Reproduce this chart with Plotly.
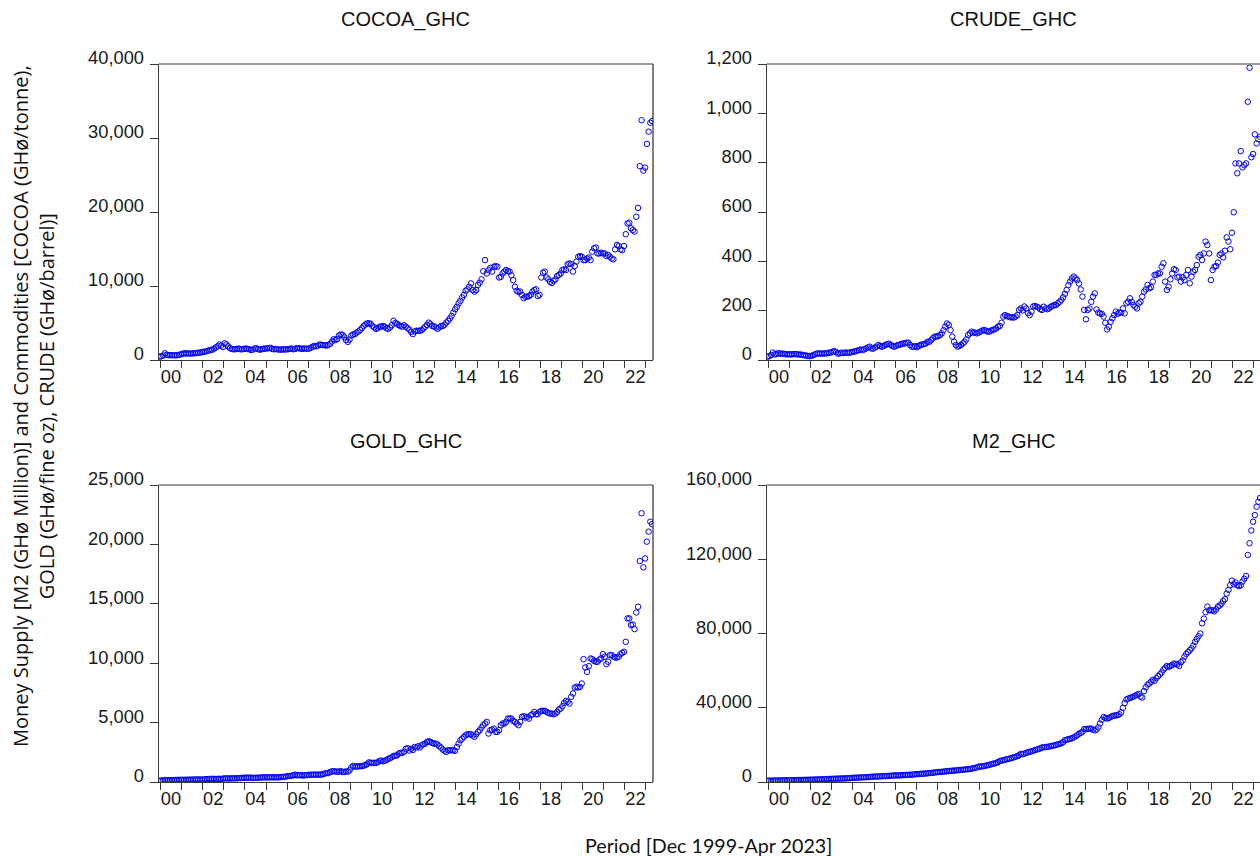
import plotly.graph_objects as go
import numpy as np
import pandas as pd

# ---------------- data (monthly, Dec 1999 - Apr 2023) ----------------
months = pd.period_range("1999-12", "2023-04", freq="M")
year_labels = ["00", "02", "04", "06", "08", "10", "12", "14", "16", "18", "20", "22"]

COCOA = [
    450,
    500, 600, 900, 700, 650, 650, 650, 650, 620, 650, 700, 750,
    850, 900, 900, 880, 870, 880, 900, 920, 950, 980, 1000, 1050,
    1100, 1150, 1200, 1300, 1350, 1400, 1550, 1700, 1850, 2100, 1950, 1750,
    2250, 2100, 1850, 1600, 1500, 1450, 1450, 1500, 1550, 1450, 1450, 1500,
    1550, 1500, 1450, 1350, 1400, 1550, 1600, 1450, 1400, 1450, 1500, 1550,
    1550, 1600, 1650, 1500, 1450, 1500, 1450, 1400, 1400, 1450, 1400, 1450,
    1450, 1500, 1550, 1450, 1500, 1600, 1600, 1550, 1500, 1550, 1550, 1500,
    1550, 1650, 1800, 1900, 1850, 1950, 2100, 2050, 2000, 2000, 1950, 2050,
    2200, 2500, 2800, 2700, 2850, 3300, 3450, 3400, 3100, 2700, 2450, 2750,
    3300, 3450, 3500, 3700, 3850, 4050, 4300, 4600, 4800, 4950, 4950, 4900,
    4600, 4400, 4200, 4300, 4500, 4500, 4600, 4500, 4300, 4200, 4400, 4700,
    5300, 5000, 4900, 4700, 4600, 4500, 4700, 4500, 4300, 4100, 3800, 3500,
    3850, 3950, 3950, 3950, 4050, 4250, 4500, 4750, 5050, 4850, 4600, 4550,
    4400, 4200, 4400, 4600, 4600, 4750, 5050, 5300, 5600, 5950, 6400, 6850,
    7200, 7650, 8000, 8450, 8800, 9350, 9550, 9900, 10350, 9450, 9250, 9450,
    10150, 10450, 10900, 12000, 13500, 11700, 12150, 12450, 11950, 12600, 12700, 12600,
    11150, 11250, 11700, 11950, 12150, 12000, 11950, 11450, 10800, 9900, 9350, 9200,
    9250, 8800, 8350, 8550, 8550, 8650, 8800, 9250, 9450, 9550, 8650, 8800,
    11150, 11800, 11950, 11150, 10900, 10550, 10400, 10700, 10900, 11350, 11500, 11700,
    12150, 12250, 12150, 12950, 13050, 12950, 11950, 12700, 13300, 13950, 14050, 13950,
    13500, 13500, 13700, 13850, 13500, 14650, 15100, 15200, 14400, 14400, 14500, 14400,
    14400, 14050, 14200, 13950, 13700, 13600, 14950, 15550, 15400, 14950, 14850, 15400,
    17000, 18450, 18550, 17800, 17550, 17350, 19350, 20550, 26200, 32400, 25600, 26000,
    29200, 30850, 32050, 32300,
]

CRUDE = [
    13,
    16, 20, 30, 23, 24, 27, 27, 24, 26, 24, 23, 23,
    23, 23, 24, 24, 23, 22, 22, 20, 19, 18, 16, 16,
    17, 20, 23, 26, 27, 26, 26, 26, 27, 27, 30, 30,
    34, 36, 32, 26, 27, 30, 28, 30, 30, 28, 31, 32,
    34, 35, 38, 40, 43, 40, 43, 47, 51, 54, 47, 46,
    51, 54, 61, 57, 54, 57, 61, 64, 66, 61, 57, 54,
    57, 61, 61, 65, 67, 67, 70, 70, 61, 54, 54, 57,
    52, 57, 61, 63, 65, 67, 74, 74, 81, 88, 95, 95,
    97, 101, 108, 121, 135, 148, 142, 121, 95, 74, 61, 54,
    57, 61, 67, 74, 84, 101, 108, 115, 111, 111, 108, 111,
    115, 119, 122, 119, 115, 115, 119, 122, 124, 128, 135, 138,
    151, 176, 182, 178, 176, 173, 173, 172, 176, 182, 203, 209,
    201, 217, 209, 190, 182, 196, 217, 219, 216, 213, 206, 203,
    216, 209, 206, 209, 216, 219, 223, 223, 230, 236, 243, 254,
    268, 284, 304, 318, 330, 338, 331, 324, 310, 286, 257, 203,
    165, 203, 209, 236, 257, 270, 205, 192, 189, 187, 176, 151,
    124, 135, 155, 169, 182, 196, 187, 192, 192, 209, 189, 230,
    236, 250, 236, 223, 216, 209, 230, 236, 257, 277, 286, 304,
    291, 295, 318, 345, 345, 351, 351, 378, 392, 318, 284, 297,
    327, 351, 368, 365, 335, 338, 318, 335, 324, 345, 365, 311,
    338, 358, 365, 385, 419, 426, 405, 432, 480, 466, 432, 324,
    365, 378, 381, 395, 426, 432, 416, 443, 497, 480, 449, 516,
    599, 797, 757, 797, 847, 781, 790, 797, 1047, 1185, 822, 835,
    915, 878, 895, 905,
]

GOLD = [
    100,
    120, 140, 170, 150, 150, 155, 160, 165, 170, 175, 180, 185,
    185, 185, 185, 190, 195, 200, 200, 205, 220, 210, 210, 205,
    215, 235, 245, 250, 260, 265, 260, 255, 265, 265, 265, 280,
    305, 310, 295, 290, 310, 310, 305, 315, 330, 330, 345, 360,
    365, 360, 370, 365, 345, 350, 360, 360, 365, 380, 395, 395,
    385, 390, 395, 395, 390, 400, 390, 400, 415, 430, 435, 460,
    505, 510, 510, 570, 620, 560, 580, 575, 560, 545, 575, 585,
    590, 620, 610, 630, 620, 610, 630, 620, 660, 720, 750, 760,
    840, 890, 920, 880, 860, 880, 920, 840, 850, 880, 880, 990,
    1220, 1360, 1310, 1300, 1320, 1330, 1340, 1370, 1430, 1510, 1650, 1620,
    1600, 1620, 1610, 1660, 1770, 1800, 1740, 1790, 1850, 1950, 2020, 2080,
    2200, 2200, 2250, 2400, 2450, 2450, 2550, 2800, 2850, 2650, 2800, 2700,
    2950, 2900, 3010, 2900, 3090, 3180, 3230, 3370, 3430, 3370, 3290, 3230,
    3230, 3150, 3010, 2900, 2730, 2620, 2530, 2670, 2670, 2670, 2670, 2620,
    2950, 3230, 3510, 3650, 3800, 3940, 4020, 4020, 4020, 3910, 3800, 4020,
    4220, 4360, 4580, 4780, 4920, 5060, 4080, 4360, 4410, 4500, 4220, 4220,
    4360, 4780, 4920, 4920, 5060, 5340, 5340, 5340, 5140, 5060, 4920, 4780,
    5060, 5480, 5540, 5420, 5480, 5340, 5620, 5700, 5900, 5700, 5700, 5900,
    5990, 5990, 5990, 5900, 5820, 5760, 5760, 5700, 5760, 5900, 6100, 6180,
    6380, 6660, 6830, 6750, 6600, 7170, 7450, 7950, 8010, 7950, 8010, 8290,
    10340, 9640, 9270, 9750, 10400, 10340, 10200, 10120, 10120, 10310, 10400, 10760,
    10540, 9920, 10120, 10680, 10680, 10540, 10480, 10480, 10540, 10760, 10870, 10960,
    11800, 13770, 13770, 13210, 13260, 12870, 14270, 14750, 18600, 22620, 18070, 18820,
    20230, 21070, 21910, 21700,
]

M2 = [
    700,
    720, 740, 760, 780, 800, 820, 840, 860, 880, 900, 930, 960,
    970, 990, 1010, 1030, 1050, 1070, 1090, 1110, 1130, 1160, 1190, 1230,
    1250, 1280, 1310, 1340, 1370, 1400, 1430, 1470, 1510, 1550, 1600, 1680,
    1700, 1740, 1780, 1820, 1850, 1880, 1920, 1960, 2000, 2050, 2100, 2200,
    2250, 2300, 2350, 2400, 2450, 2500, 2550, 2600, 2650, 2700, 2780, 2900,
    2900, 2950, 3000, 3050, 3100, 3150, 3200, 3250, 3300, 3380, 3450, 3550,
    3500, 3550, 3600, 3650, 3700, 3750, 3800, 3850, 3900, 3950, 4000, 4200,
    4200, 4300, 4400, 4450, 4500, 4600, 4700, 4800, 4900, 5000, 5100, 5300,
    5350, 5400, 5500, 5600, 5700, 5800, 5900, 6000, 6100, 6150, 6200, 6400,
    6400, 6500, 6600, 6700, 6800, 6900, 7000, 7200, 7400, 7600, 7900, 8300,
    8300, 8400, 8600, 8800, 9000, 9200, 9500, 9800, 10000, 10300, 10700, 11300,
    11500, 11700, 12000, 12300, 12500, 12700, 13000, 13300, 13600, 14000, 14400, 15200,
    15000, 15300, 15700, 16000, 16300, 16500, 16800, 17200, 17500, 17800, 18100, 18600,
    18700, 18800, 18900, 19100, 19300, 19500, 19700, 20000, 20300, 20500, 20900, 21500,
    22500, 22800, 23000, 23300, 23600, 24000, 24500, 25200, 26000, 26500, 27000, 28500,
    28500, 28600, 28700, 28800, 28200, 27800, 28300, 29500, 31500, 33500, 35000, 34500,
    34200, 34500, 35000, 35500, 35800, 35900, 36000, 36500, 37500, 40000, 42500, 44500,
    44900, 45300, 45600, 46000, 46500, 47000, 47500, 46000, 45500, 49000, 51000, 52500,
    53000, 54000, 55000, 54500, 56000, 57000, 58000, 59000, 60500, 61500, 62500, 62000,
    62500, 63000, 63800, 63500, 63300, 62500, 64500, 65500, 67500, 69000, 70000, 71000,
    72000, 73500, 75500, 77000, 78500, 80000, 85500, 88000, 91500, 94500, 92500, 92500,
    92500, 92000, 93000, 94500, 95000, 96000, 97500, 98500, 101500, 103500, 106000, 108500,
    106500, 107500, 106000, 105500, 106000, 108000, 109500, 111000, 122300, 128600, 135500, 140200,
    143800, 148300, 151000, 153000,
]

panels = [
    ("COCOA_GHC", COCOA, [0, 10000, 20000, 30000, 40000], 40000),
    ("CRUDE_GHC", CRUDE, [0, 200, 400, 600, 800, 1000, 1200], 1200),
    ("GOLD_GHC", GOLD, [0, 5000, 10000, 15000, 20000, 25000], 25000),
    ("M2_GHC", M2, [0, 40000, 80000, 120000, 160000], 160000),
]

# ---------------- layout geometry ----------------
# page body margin is removed by post_script, so figure pixels == page pixels
W, H = 1260, 856
OFF = 0
XL = [(158.7, 653.0), (766.7, 1261.0), (158.7, 653.0), (766.7, 1261.0)]
YT = [(64.0, 360.0), (64.0, 360.0), (485.0, 782.0), (485.0, 782.0)]
FULL_W = 653.0 - 158.7
N = len(months)
x_idx = np.arange(N) + 0.5


def fx(p):
    return (p - OFF) / W


def fy(p):
    return 1 - (p - OFF) / H


AXC = "#3a3a3a"
BORDER = "#7a7a7a"
TICKFONT = dict(family="Liberation Sans, Arial, sans-serif", size=18.3, color="#1a1a1a")

fig = go.Figure()
shapes = []
annotations = []

for k, (name, vals, yt, ymax) in enumerate(panels):
    sfx = "" if k == 0 else str(k + 1)
    fig.add_trace(go.Scatter(
        x=x_idx, y=vals, mode="markers", xaxis="x" + sfx, yaxis="y" + sfx,
        marker=dict(symbol="circle-open", size=5.5, color="#0000ff", line=dict(width=1, color="#0000ff")),
        hoverinfo="skip", showlegend=False,
    ))
    x0, x1 = XL[k]
    y0, y1 = YT[k]
    x1v = min(x1, W)
    xr = N * (x1v - x0) / FULL_W
    fig.layout["xaxis" + sfx] = dict(
        domain=[fx(x0), fx(x1v)], range=[0, xr], anchor="y" + sfx,
        tickmode="array", tickvals=[1 + 12 * j + 6 for j in range(0, 23, 2)], ticktext=year_labels,
        ticks="outside", ticklen=0, tickcolor="rgba(0,0,0,0)",
        minor=dict(tickmode="array", tickvals=[1 + 12 * j for j in range(24)], ticks="outside",
                   ticklen=7, tickwidth=1, tickcolor=AXC, showgrid=False),
        showline=True, linecolor=AXC, linewidth=1, mirror=False,
        showgrid=False, zeroline=False, tickfont=TICKFONT, automargin=False, fixedrange=True,
    )
    fig.layout["yaxis" + sfx] = dict(
        domain=[fy(y1), fy(y0)], range=[0, ymax], anchor="x" + sfx,
        tickmode="array", tickvals=yt, tickformat=",d",
        ticks="outside", ticklen=8, tickwidth=1, tickcolor=AXC,
        showline=True, linecolor=AXC, linewidth=1, mirror=False,
        showgrid=False, zeroline=False, tickfont=TICKFONT, automargin=False, fixedrange=True,
        ticklabelshift=-6, ticklabelstandoff=2,
    )
    # top border
    shapes.append(dict(type="line", xref="paper", yref="paper", x0=fx(x0), x1=fx(x1v),
                       y0=fy(y0), y1=fy(y0), line=dict(color=BORDER, width=1.3)))
    if x1 < W:
        shapes.append(dict(type="line", xref="paper", yref="paper", x0=fx(x1), x1=fx(x1),
                           y0=fy(y1), y1=fy(y0), line=dict(color=AXC, width=1.3)))
    annotations.append(dict(text=name, xref="paper", yref="paper", x=fx(x0 + FULL_W / 2),
                            y=fy(y0 - 44), xanchor="center", yanchor="middle", showarrow=False,
                            font=dict(family="Liberation Sans, Arial, sans-serif", size=20, color="#111")))

annotations.append(dict(text="Period [Dec 1999-Apr 2023]", xref="paper", yref="paper",
                        x=fx(708), y=fy(845), xanchor="center", yanchor="middle", showarrow=False,
                        font=dict(family="Lato, Carlito, sans-serif", size=19.7, color="#111")))
annotations.append(dict(
    text="Money Supply [M2 (GHø Million)] and Commodities [COCOA (GHø/tonne),<br>GOLD (GHø/fine oz), CRUDE (GHø/barrel)]",
    xref="paper", yref="paper", x=fx(33), y=fy(406), xanchor="center", yanchor="middle",
    textangle=-90, showarrow=False, font=dict(family="Open Sans, sans-serif", size=20, color="#111")))

fig.update_layout(
    width=W, height=H, margin=dict(l=0, r=0, t=0, b=0, pad=0),
    paper_bgcolor="white", plot_bgcolor="white", showlegend=False,
    shapes=shapes, annotations=annotations,
)

fig.write_html(
    "out.html",
    config={"displayModeBar": False, "staticPlot": True},
    post_script="document.body.style.margin='0';document.body.style.overflow='hidden';",
)
